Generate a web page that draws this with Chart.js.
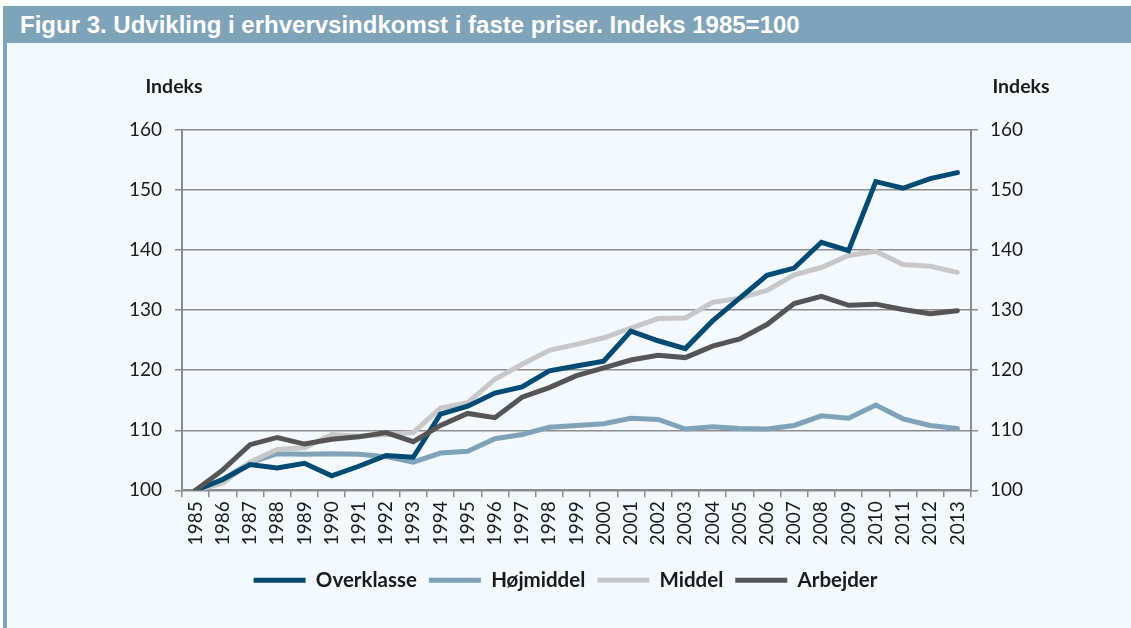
<!DOCTYPE html>
<html>
<head>
<meta charset="utf-8">
<script src="https://cdn.jsdelivr.net/npm/chart.js@4.4.1/dist/chart.umd.min.js"></script>
<style>
  html, body { margin: 0; padding: 0; background: #fff; }
  body { width: 1131px; height: 628px; position: relative; overflow: hidden; }
  #bar {
    position: absolute; left: 3px; top: 6px; right: 0; height: 37px;
    background: #7fa3b8; color: #fff;
    font: bold 24px "Liberation Sans Narrow", "Liberation Sans", sans-serif;
    line-height: 37px; padding-left: 17px; box-sizing: border-box;
  }
  #panel {
    position: absolute; left: 3px; top: 43px; right: 0; bottom: 0;
    background: #f4f9fd; border-left: 4px solid #7fa3b8;
  }
  #myChart { position: absolute; left: 0; top: 0; }
</style>
</head>
<body>
<div id="panel"></div>
<div id="bar">Figur 3. Udvikling i erhvervsindkomst i faste priser. Indeks 1985=100</div>
<canvas id="myChart" width="1131" height="628"></canvas>
<script>
const years = ['1985','1986','1987','1988','1989','1990','1991','1992','1993','1994',
  '1995','1996','1997','1998','1999','2000','2001','2002','2003','2004',
  '2005','2006','2007','2008','2009','2010','2011','2012','2013'];

const overklasse = [100, 101.8, 104.3, 103.7, 104.5, 102.4, 104.0, 105.8, 105.5, 112.7,
  114.0, 116.2, 117.2, 119.9, 120.7, 121.5, 126.5, 124.9, 123.6, 128.2,
  132.0, 135.8, 137.0, 141.3, 139.9, 151.4, 150.3, 151.9, 152.9];
const hojmiddel = [100, 101.8, 104.6, 106.1, 106.0, 106.1, 106.0, 105.6, 104.7, 106.2,
  106.5, 108.6, 109.3, 110.5, 110.8, 111.1, 112.0, 111.8, 110.2, 110.6,
  110.3, 110.2, 110.8, 112.4, 112.0, 114.2, 111.9, 110.8, 110.3];
const middel = [100, 101.2, 104.7, 106.8, 107.1, 109.3, 109.0, 109.3, 109.6, 113.7,
  114.6, 118.5, 121.0, 123.3, 124.3, 125.4, 127.0, 128.6, 128.7, 131.3,
  132.0, 133.3, 135.9, 137.1, 139.1, 139.8, 137.6, 137.3, 136.3];
const arbejder = [100, 103.4, 107.6, 108.8, 107.7, 108.5, 108.9, 109.6, 108.1, 110.8,
  112.8, 112.1, 115.5, 117.1, 119.1, 120.4, 121.7, 122.5, 122.1, 124.0,
  125.2, 127.6, 131.1, 132.3, 130.8, 131.0, 130.1, 129.4, 129.9];

const yTicks = [100, 110, 120, 130, 140, 150, 160];
const axisTitle = 'Indeks';

const gridColor = '#8c8c8c';
const textColor = '#1a1a1a';
const numFont = { family: 'Lato', size: 19 };

const indeksLabels = {
  id: 'indeksLabels',
  afterDraw(chart) {
    const { ctx, chartArea } = chart;
    ctx.save();
    ctx.fillStyle = textColor;
    ctx.font = 'bold 19.5px Lato';
    ctx.textAlign = 'center';
    ctx.textBaseline = 'middle';
    ctx.fillText(axisTitle, chartArea.left - 8, chartArea.top - 43);
    ctx.fillText(axisTitle, chartArea.right + 50, chartArea.top - 43);
    ctx.restore();
  }
};

window.addEventListener("DOMContentLoaded", () => {
  const ctx = document.getElementById("myChart");
  if (!ctx) return;
  const line = (label, data, color, order) => ({
    label, data, order,
    borderColor: color, backgroundColor: color,
    borderWidth: 5, pointRadius: 0, tension: 0,
    borderCapStyle: 'round', borderJoinStyle: 'miter',
    yAxisID: 'y'
  });
  new Chart(ctx, {
    type: 'line',
    data: {
      labels: years,
      datasets: [
        line('Overklasse', overklasse, '#004a74', 1),
        line('Højmiddel', hojmiddel, '#7fa3b8', 3),
        line('Middel', middel, '#c8c8c8', 2),
        line('Arbejder', arbejder, '#555555', 0)
      ]
    },
    options: {
      responsive: false,
      animation: false,
      layout: { padding: { top: 130, bottom: 27.6, left: 0, right: 0 } },
      scales: {
        x: {
          offset: true,
          grid: { offset: true, drawOnChartArea: false, drawTicks: true, tickLength: 7, color: gridColor, lineWidth: 1.5 },
          border: { display: true, color: gridColor, width: 2 },
          ticks: { color: textColor, font: numFont, maxRotation: 90, minRotation: 90, autoSkip: false, padding: 4 },
          afterFit: (s) => { s.height = 67.6; }
        },
        y: {
          position: 'left',
          min: 100, max: 160,
          afterBuildTicks: (s) => { s.ticks = yTicks.map(v => ({ value: v })); },
          grid: { color: gridColor, lineWidth: 1.5, tickLength: 7 },
          border: { display: true, color: gridColor, width: 2 },
          ticks: { color: textColor, font: numFont, padding: 13 },
          afterFit: (s) => { s.width = 182; }
        },
        y2: {
          position: 'right',
          min: 100, max: 160,
          afterBuildTicks: (s) => { s.ticks = yTicks.map(v => ({ value: v })); },
          grid: { drawOnChartArea: false, color: gridColor, lineWidth: 1.5, tickLength: 7 },
          border: { display: true, color: gridColor, width: 2 },
          ticks: { color: textColor, font: numFont, padding: 12 },
          afterFit: (s) => { s.width = 160; }
        }
      },
      plugins: {
        tooltip: { enabled: false },
        legend: {
          position: 'bottom',
          labels: {
            usePointStyle: true,
            pointStyle: 'line',
            pointStyleWidth: 52,
            padding: 12,
            color: textColor,
            font: { family: 'Lato', size: 20.5, weight: 'bold' },
            sort: (a, b) => a.datasetIndex - b.datasetIndex
          }
        }
      }
    },
    plugins: [indeksLabels]
  });
});
</script>
</body>
</html>
